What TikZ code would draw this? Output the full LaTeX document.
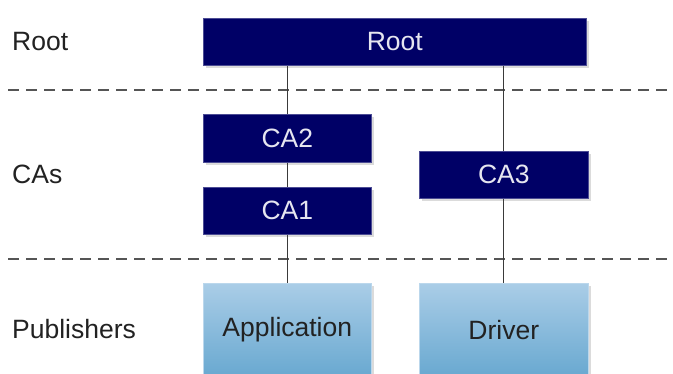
\documentclass[tikz,border=0pt]{standalone}
\usepackage{fontspec}
\setmainfont{Liberation Sans}
\usetikzlibrary{calc}
\definecolor{navy}{HTML}{000066}
\definecolor{boxtext}{HTML}{E6E6F0}
\definecolor{pubtop}{HTML}{AACDE7}
\definecolor{pubbot}{HTML}{68A8D0}
\definecolor{linec}{HTML}{3A3A3A}
\definecolor{dashc}{HTML}{555555}
\definecolor{labc}{HTML}{222222}
\tikzset{
  every node/.style={font=\fontsize{26.5}{30}\selectfont},
  shadowed/.style={preaction={fill=black!14, transform canvas={shift={(3pt,-3pt)}}}},
  cabox/.style={shadowed, fill=navy, text=boxtext, draw=navy!70, line width=0.6pt, inner sep=0pt, anchor=north west},
  pubbox/.style={shadowed, top color=pubtop, bottom color=pubbot, draw=pubtop!80!white, line width=0.6pt, text=labc, inner sep=0pt, anchor=north west},
  rowlabel/.style={text=labc, anchor=west, inner sep=0pt},
  sep/.style={dashc, line width=1.5pt, dash pattern=on 11pt off 7pt},
  conn/.style={linec, line width=1.1pt}
}
\begin{document}
\begin{tikzpicture}[x=1pt,y=-1pt]
\useasboundingbox[fill=white] (0,0) rectangle (673,374);
% separators
\coordinate (s1a) at (8,90);
\coordinate (s1b) at (673,90);
\coordinate (s2a) at (8,259);
\coordinate (s2b) at (673,259);
\draw[sep] (s1a) -- (s1b);
\draw[sep] (s2a) -- (s2b);
% nodes
\node[cabox, minimum width=383pt, minimum height=47pt] (Root) at (203,18) {};
\node[text=boxtext] (RootT) at (Root.center) {Root};
\node[cabox, minimum width=168pt, minimum height=48pt] (CA2) at (203,114) {};
\node[text=boxtext] (CA2T) at (CA2.center) {CA2};
\node[cabox, minimum width=168pt, minimum height=47pt] (CA1) at (203,187) {};
\node[text=boxtext] (CA1T) at (CA1.center) {CA1};
\node[cabox, minimum width=169pt, minimum height=47pt] (CA3) at (419,151) {};
\node[text=boxtext] (CA3T) at (CA3.center) {CA3};
\node[pubbox, minimum width=168pt, minimum height=94pt] (App) at (203,283) {};
\node[text=labc] (AppT) at ($(App.north)+(0,47)$) {Application};
\node[pubbox, minimum width=169pt, minimum height=94pt] (Drv) at (419,283) {};
\node[text=labc] (DrvT) at ($(Drv.north)+(0,47)$) {Driver};
% row labels
\node[rowlabel] (LRoot) at (12,42) {Root};
\node[rowlabel] (LCAs) at (12,174) {CAs};
\node[rowlabel] (LPub) at (12,329) {Publishers};
% connectors
\draw[conn] (Root.south -| CA2.north) -- (CA2.north);
\draw[conn] (CA2.south) -- (CA1.north);
\draw[conn] (CA1.south) -- (App.north);
\draw[conn] (Root.south -| CA3.north) -- (CA3.north);
\draw[conn] (CA3.south) -- (Drv.north);
\end{tikzpicture}
\end{document}
